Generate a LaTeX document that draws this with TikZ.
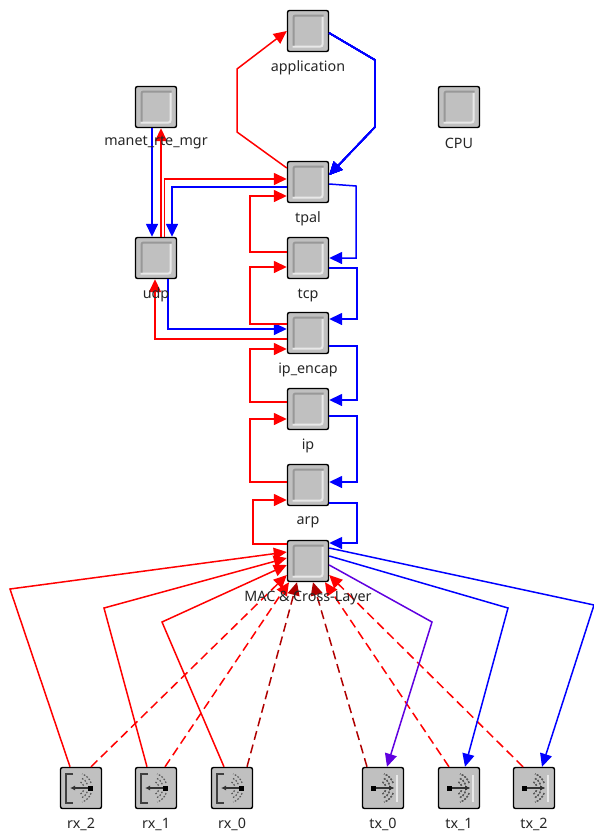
\documentclass[tikz,border=0pt]{standalone}
\usepackage{fontspec}
\setmainfont{Noto Sans}
\usepackage{tikz}
\usetikzlibrary{arrows.meta,positioning,calc}
\definecolor{modFace}{HTML}{C0C0C0}
\definecolor{modLight}{HTML}{E8E8E8}
\definecolor{modDark}{HTML}{989898}
\definecolor{pktRed}{HTML}{FF0000}
\definecolor{pktDark}{HTML}{B00000}
\definecolor{pktBlue}{HTML}{0000FF}
\definecolor{pktPurple}{HTML}{6000E0}
\tikzset{
  radio/.style={draw=black,line width=1.4pt,rounded corners=2pt,fill=modFace,minimum size=41pt,inner sep=0pt},
  module/.style={radio,
    path picture={
      \draw[modLight,line width=2pt] ($(path picture bounding box.north east)+(-6,6)$) -- ++(0,30) -- ++(-30,0);
      \draw[modDark,line width=2pt] ($(path picture bounding box.south west)+(6,-6)$) -- ++(0,-30) -- ++(30,0);
    }},
  lab/.style={font=\fontsize{14.3}{16}\selectfont,text=black!85,inner sep=0pt},
  pkt/.style={line width=1.5pt,-{Triangle[length=13pt,width=12pt]}},
  red pkt/.style={pkt,pktRed},
  blue pkt/.style={pkt,pktBlue},
  dash pkt/.style={pkt,pktRed,dash pattern=on 9pt off 5pt},
  dark pkt/.style={pkt,pktDark,dash pattern=on 9pt off 5pt},
  ray/.style={black!65,line width=1.2pt,dash pattern=on 1.6pt off 1.6pt},
}
\newcommand{\raysglyph}[1]{%
  \foreach \r in {7,11,15}{
    \draw[ray] ($(#1)+(-4,0)+(20:\r)$) arc (20:70:\r);
    \draw[ray] ($(#1)+(-4,0)+(-20:\r)$) arc (-20:-70:\r);
  }
}
\newcommand{\rxglyph}[1]{%
  \draw[black!75,line width=1.2pt] ($(#1)+(-8,-14)$) -- ($(#1)+(-15,-14)$) -- ($(#1)+(-15,15)$) -- ($(#1)+(-8,15)$);
  \draw[black!80,line width=1.2pt,-{Latex[length=5pt,width=5pt]}] ($(#1)+(9,0)$) -- ($(#1)+(-11,0)$);
  \fill[black] ($(#1)+(7,-2.5)$) rectangle ++(5,5);
  \raysglyph{#1}
}
\newcommand{\txglyph}[1]{%
  \draw[modLight,line width=1.5pt] ($(#1)+(14,-13)$) -- ++(0,27);
  \draw[black!80,line width=1.2pt,-{Latex[length=5pt,width=5pt]}] ($(#1)+(-9,0)$) -- ($(#1)+(11,0)$);
  \fill[black] ($(#1)+(-12,-2.5)$) rectangle ++(5,5);
  \raysglyph{#1}
}
\begin{document}
\begin{tikzpicture}[x=1pt,y=-1pt]
\useasboundingbox (0,0) rectangle (594,833);
\fill[white] (0,0) rectangle (594,833);
\foreach \name/\x/\y in {application/308/31,manet/156/107,cpu/459/107,tpal/308/182,udp/156/258,tcp/308/258,ipencap/308/333,ip/308/409,arp/308/485,mac/308/561}
  \node[module] (\name) at (\x,\y) {};
\foreach \name/\x in {rx2/81,rx1/156,rx0/232,tx0/383,tx1/459,tx2/534}
  \node[radio] (\name) at (\x,788) {};
\foreach \name in {rx2,rx1,rx0}
  \rxglyph{\name}
\foreach \name in {tx0,tx1,tx2}
  \txglyph{\name}
\draw[blue pkt] (application.east |- 0,33) -- (375,60) -- (375,127) -- (tpal.east |- 0,175);
\draw[red pkt] (tpal.west |- 0,168) -- (237,132) -- (237,69) -- (application.west);
\draw[blue pkt] (manet.south -| 152,0) -- (udp.north -| 152,0);
\draw[red pkt] (udp.north -| 161,0) -- (manet.south -| 161,0);
\draw[red pkt] (udp.north -| 164.5,0) -- (164.5,179) -- (tpal.west |- 0,179);
\draw[blue pkt] (tpal.west |- 0,187) -- (172,187) -- (udp.north -| 172,0);
\draw[blue pkt] (udp.south -| 168,0) -- (168,329) -- (ipencap.west |- 0,329);
\draw[red pkt] (ipencap.west |- 0,339) -- (155,339) -- (udp.south -| 155,0);
\foreach \from/\to/\ya/\yb/\xx in {tcp/tpal/252/196/250,ipencap/tcp/324/267/250,ip/ipencap/402/349/250,arp/ip/482/419/250,mac/arp/544/500/253}
  \draw[red pkt] (\from.west |- 0,\ya) -- (\xx,\ya) -- (\xx,\yb) -- (\to.west |- 0,\yb);
\draw[blue pkt] (tpal.east |- 0,184) -- (356,186) -- (356,258) -- (tcp.east);
\foreach \from/\to/\ya/\yb/\xx in {tcp/ipencap/268/319/357,ipencap/ip/346/400/357,ip/arp/416/482/357,arp/mac/503/543/357}
  \draw[blue pkt] (\from.east |- 0,\ya) -- (\xx,\ya) -- (\xx,\yb) -- (\to.east |- 0,\yb);
\draw[red pkt] (rx2.north -| 70,0) -- (10,589) -- (mac.west |- 0,552);
\draw[red pkt] (rx1.north -| 147,0) -- (104,608) -- (mac.west |- 0,558);
\draw[red pkt] (rx0.north -| 224,0) -- (162,622) -- (mac.west |- 0,565);
\draw[dash pkt] (rx2.north -| 91,0) -- (mac.west |- 0,575);
\draw[dash pkt] (rx1.north -| 165,0) -- (mac.south -| 289,0);
\draw[dark pkt] (rx0.north -| 247,0) -- (mac.south -| 297,0);
\draw[dark pkt] (tx0.north -| 367,0) -- (mac.south -| 313,0);
\draw[dash pkt] (tx1.north -| 449,0) -- (mac.south -| 325,0);
\draw[dash pkt] (tx2.north -| 523,0) -- (mac.east |- 0,575);
\draw[blue pkt] (mac.east |- 0,548) -- (594,605) -- (tx2.north -| 542,0);
\draw[blue pkt] (mac.east |- 0,556) -- (508,608) -- (tx1.north -| 465,0);
\draw[pkt,pktPurple] (mac.east |- 0,565) -- (432,622) -- (tx0.north -| 387,0);
\foreach \name/\lab/\y in {application/application/68,tpal/tpal/219,tcp/tcp/295,ipencap/ip\_encap/370,ip/ip/446,arp/arp/522,mac/MAC \& Cross-Layer/598,manet/manet\_rte\_mgr/143,udp/udp/295,cpu/CPU/143,rx2/rx\_2/824,rx1/rx\_1/824,rx0/rx\_0/824,tx0/tx\_0/824,tx1/tx\_1/824,tx2/tx\_2/824}
  \node[lab] (\name lab) at (\name |- 0,\y) {\lab};
\end{tikzpicture}
\end{document}
